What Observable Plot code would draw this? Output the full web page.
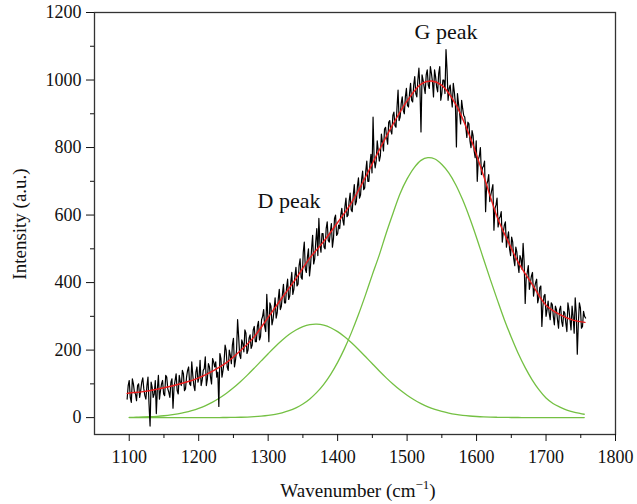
<!DOCTYPE html>
<html><head><meta charset="utf-8">
<script src="https://cdn.jsdelivr.net/npm/d3@7"></script>
<script src="https://cdn.jsdelivr.net/npm/@observablehq/plot@0.6"></script>
<style>body{margin:0;background:#fff} svg{display:block}</style>
</head><body><div id="chart"></div>
<script>
const rawStartA = 1097, rawStartB = 1098.5, rawStep = 3;
const rawIntensityA = [
55,110,45,100,70,95,60,105,85,55,120,-25,90,70,12,125,80,110,65,120,75,105,
28,110,80,125,95,130,85,140,100,165,95,135,105,170,110,145,95,160,120,175,
150,120,33,175,140,215,150,200,160,235,170,290,185,230,195,250,200,245,215,270,
225,285,240,300,270,365,225,330,290,355,310,380,330,395,340,410,360,430,380,445,
395,470,410,520,430,500,450,540,470,560,590,490,545,500,580,520,575,530,600,545,
560,620,570,650,600,665,610,690,640,710,660,730,680,760,700,780,890,740,820,760,
840,790,860,810,880,840,905,860,970,890,950,900,975,920,990,935,1010,950,1035,846,
1000,960,1030,975,1020,950,1010,965,1040,960,1000,1090,940,985,920,965,802,930,870,915,
890,830,870,800,835,770,700,775,720,745,610,700,640,675,555,630,565,595,520,570,
505,550,480,520,450,490,430,470,516,338,430,380,420,360,400,340,385,270,360,300,
345,290,335,275,320,265,330,270,310,255,320,260,300,355,188,340,265,315,295
];
const rawIntensityB = [
95,60,115,75,50,100,80,118,65,95,40,105,60,110,85,55,100,70,125,85,60,115,
90,130,70,105,140,80,120,150,95,125,80,150,120,95,140,180,115,150,100,165,
165,135,190,120,165,200,140,185,215,150,200,240,175,220,260,190,235,205,260,225,
270,230,290,320,255,300,340,275,320,295,350,320,365,340,385,350,400,365,420,390,
450,415,490,440,475,420,500,455,520,480,515,545,505,560,525,550,505,590,540,570,
600,585,625,595,640,615,660,630,685,650,705,675,730,700,750,725,770,760,790,775,
815,855,830,875,850,895,865,920,880,930,910,950,925,960,940,985,960,1000,975,1015,
980,1015,985,1040,995,1030,980,1020,940,1000,960,1030,975,950,990,930,960,905,940,895,
860,875,820,850,790,820,765,800,740,760,690,720,660,690,620,650,590,610,550,580,
530,500,535,470,505,455,480,440,460,415,450,400,430,385,410,355,390,330,365,320,
310,340,300,330,290,320,285,315,280,340,290,330,250,310,280,325,270,300
];
// Fitted envelope (red)
const fitX = [1097,1100,1120,1140,1160,1180,1200,1220,1240,1260,1280,1300,1320,1340,1360,1380,1400,1420,1440,1460,1480,1500,1520,1535,1550,1570,1590,1610,1630,1640,1650,1660,1680,1700,1720,1740,1756];
const fitY = [72,73,77,84,93,104,118,138,163,198,240,297,355,412,473,522,578,637,712,793,870,938,988,997,984,928,835,717,592,545,502,460,395,333,305,288,282];
// Component peaks (green)
const peakGrid = d3.range(1100, 1751, 10).concat([1755]);
const dPeak = [0.8,1.2,1.8,2.6,3.9,5.6,7.9,11.1,15.2,20.5,
27.2,35.6,45.8,57.9,72.1,88.2,106.2,125.8,146.6,168,
189.4,210.1,229.2,246,259.7,269.7,275.6,277,273.7,266.2,
254.6,239.6,221.8,202,180.9,159.4,138.2,117.8,98.8,81.5,
66.2,52.8,41.5,32,24.4,18.2,13.4,9.7,6.9,4.8,
3.3,2.2,1.5,1,0.6,0.4,0.3,0.2,0.1,0.1,
0,0,0,0,0,0,
0];
const gPeak = [0,0,0,0,0,0,0,0,0,0,
0.04,0.1,0.15,0.25,0.4,0.65,1.1,1.7,2.7,4.2,
6.4,9.6,14.2,20.5,29.1,40.5,55.5,74.7,98.7,128.3,
163.6,205.1,252.5,305.4,362.9,423.6,482,547,607,664,
707,740,762,770,766,750,725,690,645,592,
533,470,408,348,290,238,190,148,112,82,
58,42,31,22,16,12,
10];
// Axis ticks
const xTicks = [1100,1200,1300,1400,1500,1600,1700,1800];
const xMinor = [1150,1250,1350,1450,1550,1650,1750];
const yTicks = [0,200,400,600,800,1000,1200];
const yMinor = [100,300,500,700,900,1100];
// Annotations
const labelText = ["D peak","G peak"];
const labelX = [1330,1556];
const labelY = [641,1143];

const raw = rawIntensityA.map((v,i)=>({x: rawStartA + i*rawStep, y: v}))
  .concat(rawIntensityB.map((v,i)=>({x: rawStartB + i*rawStep, y: v})))
  .sort((a,b)=>a.x-b.x);
const fit = fitX.map((x,i)=>({x, y: fitY[i]}));
const dData = peakGrid.map((x,i)=>({x, y: dPeak[i]}));
const gData = peakGrid.map((x,i)=>({x, y: gPeak[i]}));
const labels = labelText.map((t,i)=>({t, x: labelX[i], y: labelY[i]}));

const font = "'Liberation Serif', 'DejaVu Serif', serif";
const green = "#74c043";
const chart = Plot.plot({
  width: 637, height: 504,
  marginTop: 12, marginBottom: 70, marginLeft: 94, marginRight: 22,
  x: {domain: [1050, 1800]},
  y: {domain: [-50, 1200]},
  style: {fontFamily: font, fontSize: "18px", color: "#111", background: "#fff"},
  marks: [
    Plot.line(dData, {x: "x", y: "y", stroke: green, strokeWidth: 1.3, curve: "catmull-rom"}),
    Plot.line(gData, {x: "x", y: "y", stroke: green, strokeWidth: 1.3, curve: "catmull-rom"}),
    Plot.line(raw, {x: "x", y: "y", stroke: "#000", strokeWidth: 1.2}),
    Plot.line(fit, {x: "x", y: "y", stroke: "#ee1c1c", strokeWidth: 1.4, curve: "catmull-rom"}),
    Plot.frame({stroke: "#333", strokeWidth: 1.3}),
    Plot.axisX({ticks: xTicks, tickSize: 7, tickPadding: 9, tickFormat: d => String(d), label: null, fontSize: 18}),
    Plot.axisX({ticks: xMinor, tickSize: 4, text: null, label: null}),
    Plot.axisY({ticks: yTicks, tickSize: 8, tickPadding: 5, tickFormat: d => String(d), label: null, fontSize: 18}),
    Plot.axisY({ticks: yMinor, tickSize: 4, text: null, label: null}),
    Plot.text(labels, {x: "x", y: "y", text: "t", fontSize: 22, fill: "#111", textAnchor: "middle"})
  ]
});
document.getElementById("chart").appendChild(chart);

const svg = d3.select(chart);
const xl = svg.append("text")
  .attr("x", 358).attr("y", 497)
  .attr("text-anchor", "middle")
  .attr("font-family", font).attr("font-size", 19).attr("fill", "#111");
xl.append("tspan").text("Wavenumber (cm");
xl.append("tspan").attr("font-size", 13).attr("dy", -8).text("\u22121");
xl.append("tspan").attr("dy", 8).text(")");
svg.append("text")
  .attr("transform", "translate(26,224) rotate(-90)")
  .attr("text-anchor", "middle")
  .attr("font-family", font).attr("font-size", 19).attr("fill", "#111")
  .text("Intensity (a.u.)");
</script>
</body></html>
